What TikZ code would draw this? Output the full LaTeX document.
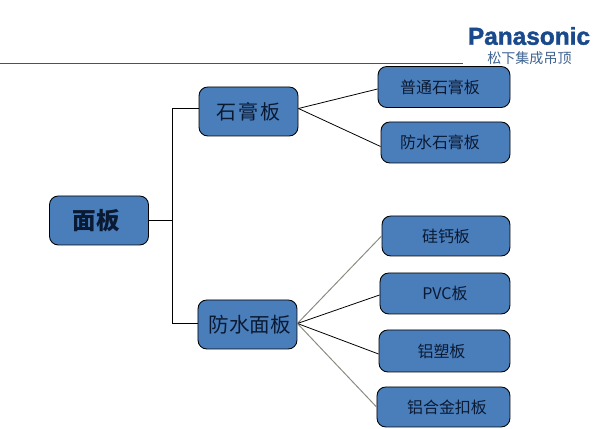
\documentclass[tikz,border=0pt]{standalone}
\usepackage{fontspec}
\setmainfont{Liberation Sans}
\newfontfamily\cjk{Noto Sans CJK SC}
\newfontfamily\logofont[BoldFeatures={FakeBold=1.6}]{Liberation Sans}
\definecolor{panelblue}{HTML}{4A7EBB}
\definecolor{logoblue}{HTML}{1A4A8C}
\definecolor{rulecolor}{HTML}{2F5597}
\definecolor{subblue}{HTML}{3F6390}
\definecolor{textnavy}{HTML}{0B1A33}
\definecolor{linkgray}{HTML}{8A8A80}
\tikzset{
  panel/.style={rectangle,rounded corners=5pt,draw=black,line width=0.5pt,fill=panelblue,text=textnavy,inner sep=0pt,font=\cjk},
  mid/.style={panel,minimum width=1.98cm,minimum height=0.98cm},
  leaf/.style={panel,minimum height=0.82cm},
  link/.style={draw=black,line width=0.45pt},
  softlink/.style={draw=linkgray,line width=0.55pt}
}
\newcommand{\fsz}[1]{\fontsize{#1}{#1}\selectfont}

\begin{document}
\begin{tikzpicture}[scale=1.0]
    \useasboundingbox (0,0) rectangle (11.88,8.58);
    \node[mid,font=\cjk\bfseries\fsz{13.4}] (root) at (1.98,4.17) {面板\hspace*{0.10cm}};
    \node[mid,font=\cjk\fsz{11.4}] (gypsum) at (4.97,6.35) {石\kern0.04cm 膏\kern0.04cm 板};
    \node[mid,font=\cjk\fsz{11.7}] (water) at (4.95,2.09) {\hspace*{0.10cm}防水面板};
    \node[leaf,minimum width=2.64cm,font=\cjk\fsz{9.1}] (l1) at (8.88,6.84) {普通石膏板\hspace*{0.16cm}};
    \node[leaf,minimum width=2.58cm,font=\cjk\fsz{9.1}] (l2) at (8.91,5.73) {防水石膏板\hspace*{0.22cm}};
    \node[leaf,minimum width=2.56cm,minimum height=0.80cm,font=\cjk\fsz{9.1}] (l3) at (8.92,3.86) {硅钙板};
    \node[leaf,minimum width=2.60cm,font=\cjk\fsz{9.1}] (l4) at (8.90,2.71) {PVC板};
    \node[leaf,minimum width=2.62cm,minimum height=0.84cm,font=\cjk\fsz{9.1}] (l5) at (8.89,1.56) {铝塑板\hspace*{0.12cm}};
    \node[leaf,minimum width=2.66cm,minimum height=0.80cm,font=\cjk\fsz{9.1}] (l6) at (8.87,0.44) {\hspace*{0.14cm}铝合金扣板};
    \coordinate (fork) at (3.45,4.17);
    \coordinate (gypsumin) at ([yshift=0.06cm]gypsum.west);
    \coordinate (gypsumout) at ([yshift=0.06cm]gypsum.east);
    \coordinate (waterin) at ([yshift=0.02cm]water.west);
    \coordinate (waterout) at ([yshift=0.02cm]water.east);
    \draw[link] (root) -- (fork);
    \draw[link] (gypsumin) -| (fork);
    \draw[link] (waterin) -| (fork);
    \draw[link] (gypsumout) -- ([yshift=-0.04cm]l1.west);
    \draw[link] (gypsumout) -- ([yshift=-0.08cm]l2.west);
    \draw[softlink] (waterout) -- (l3.west);
    \draw[link] (waterout) -- ([yshift=-0.03cm]l4.west);
    \draw[link] (waterout) -- ([yshift=-0.06cm]l5.west);
    \draw[softlink] (waterout) -- (l6.west);
    \coordinate (ruleleft) at (0,7.32);
    \coordinate (ruleright) at (9.26,7.32);
    \draw[rulecolor,line width=0.4pt] (ruleleft) -- (ruleright);
    \node[text=logoblue,font=\logofont\bfseries\fsz{13.9},inner sep=0pt] (logo) at (10.58,7.86) {Panasonic};
    \node[text=subblue,font=\cjk\fsz{8},inner sep=0pt] (logosub) at (10.59,7.42) {松下集成吊顶};
\end{tikzpicture}
\end{document}
